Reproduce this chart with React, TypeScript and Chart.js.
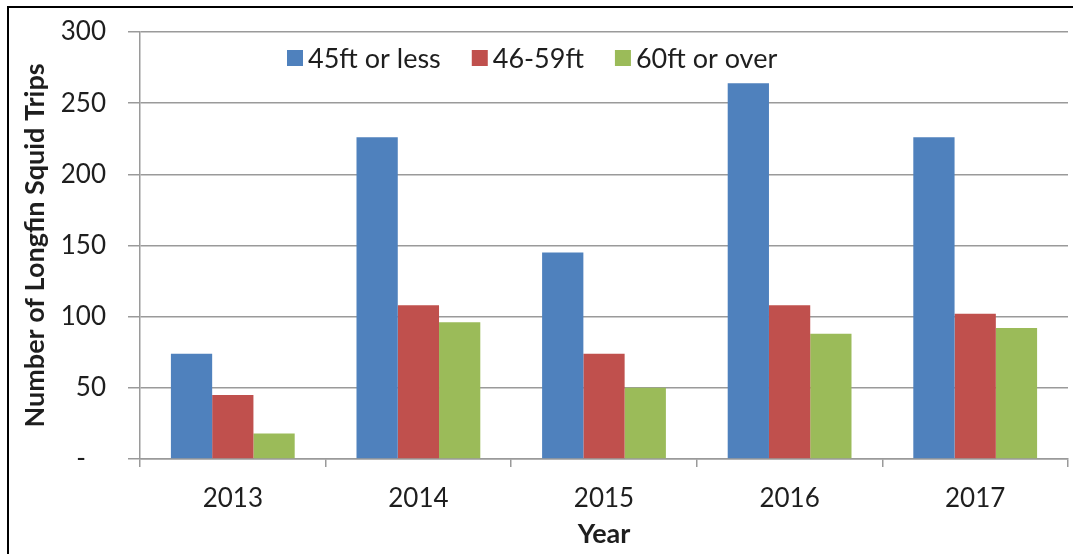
import { useEffect, useRef } from 'react';
import { Chart, registerables } from 'chart.js';

Chart.register(...registerables);

// Longfin squid trips per year, by vessel length class
const years = ['2013', '2014', '2015', '2016', '2017'];
const tripsUpTo45ft = [74, 226, 145, 264, 226];
const trips46to59ft = [45, 108, 74, 108, 102];
const trips60ftPlus = [18, 96, 50, 88, 92];
const seriesNames = ['45ft or less', '46-59ft', '60ft or over'];
const seriesColors = ['#4F81BD', '#C0504D', '#9BBB59'];
const yMin = 0;
const yMax = 300;
const yStep = 50;

const FONT = 'Lato, "Open Sans", sans-serif';
const TEXT = '#1e1e1e';
const GRID = '#9a9a9a';

// Legend drawn as one row inside the plot area, near its top
const insideLegend = {
  id: 'insideLegend',
  afterDatasetsDraw(chart: any) {
    const { ctx, chartArea } = chart;
    ctx.save();
    ctx.font = `27px ${FONT}`;
    ctx.textBaseline = 'middle';
    ctx.textAlign = 'left';
    let x = chartArea.left + 147;
    const y = chartArea.top + 26;
    const box = 16;
    chart.data.datasets.forEach((ds: any) => {
      ctx.fillStyle = ds.backgroundColor;
      ctx.fillRect(x, y - box / 2, box, box);
      x += box + 5;
      ctx.fillStyle = TEXT;
      ctx.fillText(ds.label, x, y + 1);
      x += ctx.measureText(ds.label).width + 31;
    });
    ctx.restore();
  },
};

export default function App() {
  const canvasRef = useRef<HTMLCanvasElement | null>(null);

  useEffect(() => {
    if (!canvasRef.current) return;
    const values = [tripsUpTo45ft, trips46to59ft, trips60ftPlus];
    const chart = new Chart(canvasRef.current, {
      type: 'bar',
      data: {
        labels: years,
        datasets: values.map((v, i) => ({
          label: seriesNames[i],
          data: v,
          backgroundColor: seriesColors[i],
          borderWidth: 0,
          categoryPercentage: 0.667,
          barPercentage: 1,
        })),
      },
      options: {
        responsive: false,
        animation: false,
        layout: { padding: { left: 0, right: 5, top: 32, bottom: 0 } },
        plugins: {
          legend: { display: false },
          tooltip: { enabled: false },
        },
        scales: {
          x: {
            offset: true,
            grid: {
              display: true,
              drawOnChartArea: false,
              drawTicks: true,
              tickLength: 8,
              offset: true,
              color: GRID,
              lineWidth: 1.5,
            },
            border: { display: true, color: GRID, width: 1.5 },
            ticks: {
              color: TEXT,
              font: { family: FONT, size: 26 },
              padding: 16,
              maxRotation: 0,
            },
            title: {
              display: true,
              text: 'Year',
              color: TEXT,
              font: { family: FONT, size: 27, weight: 'bold' },
              padding: 4,
            },
            afterFit: (s: any) => {
              s.height = 95;
            },
          },
          y: {
            min: yMin,
            max: yMax,
            ticks: {
              stepSize: yStep,
              color: TEXT,
              font: { family: FONT, size: 26 },
              padding: 22,
              callback: (v: any) => (Number(v) === 0 ? '-   ' : String(v)),
            },
            grid: {
              color: GRID,
              lineWidth: 1.5,
              tickLength: 12,
              drawTicks: true,
            },
            border: { display: true, color: GRID, width: 1.5 },
            title: {
              display: true,
              text: 'Number of Longfin Squid Trips',
              color: TEXT,
              font: { family: FONT, size: 27, weight: 'bold' },
              padding: 19,
            },
            afterFit: (s: any) => {
              s.width = 140;
              s.paddingTop = 16;
              s.paddingBottom = 16;
            },
          },
        },
      },
      plugins: [insideLegend],
    });
    return () => chart.destroy();
  }, []);

  return (
    <div
      style={{
        position: 'absolute',
        left: 0,
        top: 0,
        width: 1073,
        height: 554,
        overflow: 'hidden',
        background: '#fff',
      }}
    >
      <canvas ref={canvasRef} width={1073} height={554} style={{ display: 'block' }} />
      <div
        style={{
          position: 'absolute',
          left: 7,
          top: 6,
          right: -4,
          bottom: -4,
          borderTop: '2px solid #000',
          borderLeft: '2px solid #000',
          pointerEvents: 'none',
        }}
      />
    </div>
  );
}
